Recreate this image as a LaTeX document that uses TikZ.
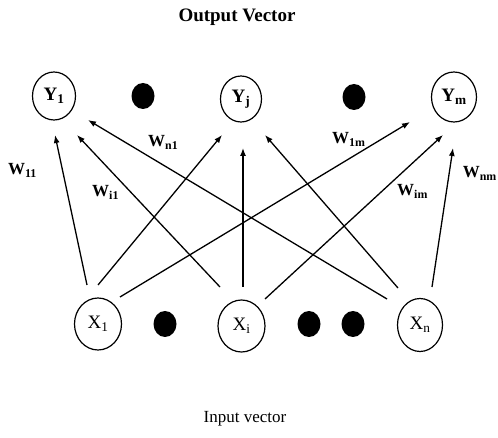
\documentclass[tikz,border=0pt]{standalone}
\usepackage{fontspec}
\setmainfont{Liberation Serif}
\usetikzlibrary{arrows.meta,shapes.geometric}

\tikzset{
  unit/.style={draw, ellipse, line width=1.2pt, inner sep=0pt,
    font=\fontsize{19}{19}\selectfont},
  outunit/.style={unit, font=\fontsize{19}{19}\selectfont\bfseries},
  dot/.style={fill=black, ellipse, inner sep=0pt,
    minimum width=23pt, minimum height=26pt},
  wire/.style={line width=1.3pt, -{Latex[length=8pt,width=6pt]}},
  weight/.style={font=\fontsize{17}{17}\selectfont\bfseries, inner sep=0pt},
  caption/.style={inner sep=0pt}
}

\begin{document}
\begin{tikzpicture}[x=1pt, y=-1pt]
  \useasboundingbox (0,0) rectangle (498,438);

  % titles
  \node[caption, font=\fontsize{19}{19}\selectfont\bfseries] (outtitle) at (237,17) {Output Vector};
  \node[caption, font=\fontsize{17}{17}\selectfont] (intitle) at (245,419) {Input vector};

  % output layer
  \node[outunit, minimum width=43pt, minimum height=48pt] (y1) at (54,96) {Y\textsubscript{1}};
  \node[dot] (dy1) at (143,96) {};
  \node[outunit, minimum width=41pt, minimum height=46pt] (yj) at (241,99) {Y\textsubscript{j}};
  \node[dot] (dy2) at (354,97) {};
  \node[outunit, minimum width=45pt, minimum height=50pt] (ym) at (454,97) {Y\textsubscript{m}};

  % input layer
  \node[unit, minimum width=47pt, minimum height=52pt] (x1) at (98,324) {X\textsubscript{1}};
  \node[dot] (dx1) at (165,324) {};
  \node[unit, minimum width=47pt, minimum height=52pt] (xi) at (241.5,326) {X\textsubscript{i}};
  \node[dot] (dx2) at (309,324) {};
  \node[dot] (dx3) at (353,324) {};
  \node[unit, minimum width=45pt, minimum height=53pt] (xn) at (420,325) {X\textsubscript{n}};

  % weighted connections
  \draw[wire] ([shift={(-11,-39)}]x1.center) -- ([shift={(1,39)}]y1.center);
  \draw[wire] ([shift={(0,-39)}]x1.center) -- ([shift={(-19,36)}]yj.center);
  \draw[wire] ([shift={(22,-27)}]x1.center) -- ([shift={(-44,25)}]ym.center);

  \draw[wire] ([shift={(-21.5,-39)}]xi.center) -- ([shift={(23,39)}]y1.center);
  \draw[wire] ([shift={(1.5,-39)}]xi.center) -- ([shift={(2,49)}]yj.center);
  \draw[wire] ([shift={(23.5,-27)}]xi.center) -- ([shift={(-11,38)}]ym.center);

  \draw[wire] ([shift={(-33,-26)}]xn.center) -- ([shift={(34,24)}]y1.center);
  \draw[wire] ([shift={(-22,-37)}]xn.center) -- ([shift={(24,36)}]yj.center);
  \draw[wire] ([shift={(12,-38)}]xn.center) -- ([shift={(-1,51)}]ym.center);

  % weight labels
  \node[weight, anchor=base west] (w11) at (8,175) {W\textsubscript{11}};
  \node[weight, anchor=base west] (wi1) at (92,197) {W\textsubscript{i1}};
  \node[weight, anchor=base west] (wn1) at (148,147) {W\textsubscript{n1}};
  \node[weight, anchor=base west] (w1m) at (332,144) {W\textsubscript{1m}};
  \node[weight, anchor=base west] (wim) at (397,196) {W\textsubscript{im}};
  \node[weight, anchor=base east] (wnm) at (497,178) {W\textsubscript{nm}};
\end{tikzpicture}
\end{document}
